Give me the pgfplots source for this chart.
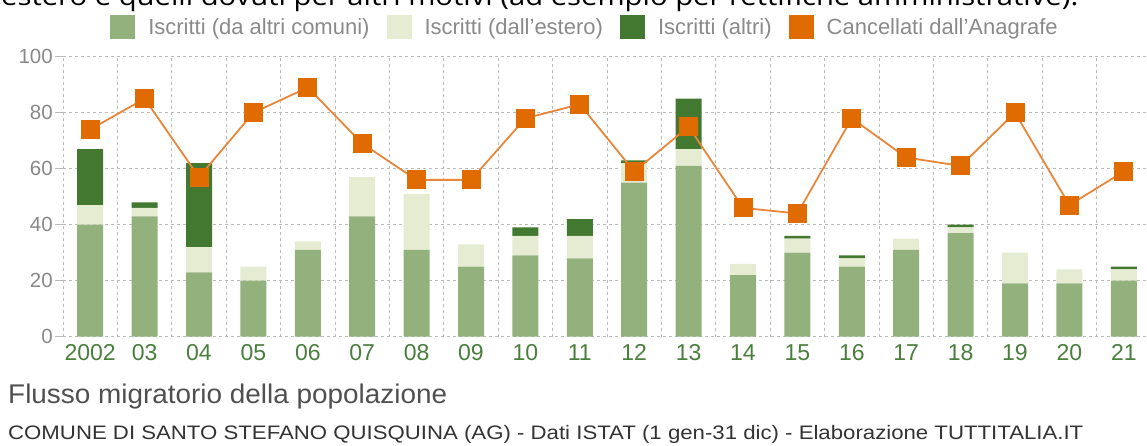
\documentclass[border=0pt]{standalone}
\usepackage{fontspec}
\setmainfont{Liberation Sans}
\newfontfamily\opensans{Open Sans}
\usepackage{graphicx}
\usepackage{pgfplots}
\usepackage{pgfplotstable}
\pgfplotsset{compat=1.18}

\definecolor{cA}{HTML}{93B17D}
\definecolor{cB}{HTML}{E5ECD1}
\definecolor{cC}{HTML}{42782F}
\definecolor{cO}{HTML}{E06B00}
\definecolor{cOl}{HTML}{E8863A}
\definecolor{gridc}{HTML}{BBBBBB}
\definecolor{ticktxt}{HTML}{888888}
\definecolor{xtxt}{HTML}{4A7E3C}
\definecolor{legtxt}{HTML}{8A8A8A}
\definecolor{titletxt}{HTML}{505050}
\definecolor{subtxt}{HTML}{333333}

\pgfplotstableread{
x a b c d
0 40 7 20 74
1 43 3 2 85
2 23 9 30 57
3 20 5 0 80
4 31 3 0 89
5 43 14 0 69
6 31 20 0 56
7 25 8 0 56
8 29 7 3 78
9 28 8 6 83
10 55 7 1 59
11 61 6 18 75
12 22 4 0 46
13 30 5 1 44
14 25 3 1 78
15 31 4 0 64
16 37 2 1 61
17 19 11 0 80
18 19 5 0 47
19 20 4 1 59
}\data

\begin{document}
\begin{tikzpicture}
\useasboundingbox (0pt,0pt) rectangle (1147pt,446pt);

% cut-off text at top
\node[anchor=base west, inner sep=0pt, text=black] at (1pt,440pt)
  {\resizebox{1077pt}{\height}{\opensans\fontsize{26}{30}\selectfont estero e quelli dovuti per altri motivi (ad esempio per rettifiche amministrative).}};

\begin{axis}[
  at={(63pt,109.3pt)}, anchor=south west,
  scale only axis, width=1088pt, height=280pt,
  xmin=-0.5, xmax=19.5, ymin=0, ymax=100,
  ybar stacked, bar width=26pt,
  xtick={0,...,19},
  xticklabels={2002,03,04,05,06,07,08,09,10,11,12,13,14,15,16,17,18,19,20,21},
  minor xtick={-0.5,0.5,...,19.5},
  ytick={0,20,...,100},
  xminorgrids, ymajorgrids,
  grid style={draw=gridc, line width=0.9pt, dash pattern=on 3pt off 3pt},
  axis lines*=left,
  axis line style={draw=gridc, line width=0.9pt, dash pattern=on 3pt off 3pt},
  tick align=outside, major tick length=8pt, minor tick length=0pt,
  xtick style={draw=none},
  ytick style={draw=gridc, line width=0.9pt, solid},
  /pgf/number format/assume math mode=true,
  yticklabel style={font=\fontsize{20.5}{24}\selectfont, text=ticktxt, inner sep=2pt},
  xticklabel style={font=\fontsize{23}{26}\selectfont, text=xtxt, inner sep=0pt, anchor=north},
]
\addplot[fill=cA, draw=none] table[x=x,y=a]{\data};
\addplot[fill=cB, draw=none] table[x=x,y=b]{\data};
\addplot[fill=cC, draw=none] table[x=x,y=c]{\data};
\end{axis}

\begin{axis}[
  at={(63pt,109.3pt)}, anchor=south west,
  scale only axis, width=1088pt, height=280pt,
  xmin=-0.5, xmax=19.5, ymin=0, ymax=100,
  hide axis, clip=false,
  legend columns=4,
  legend image code/.code={\fill[#1, draw=none] (0pt,-12pt) rectangle (25pt,12pt); \path[draw=none, fill=none] (25pt,0pt) -- (38pt,0pt);},
  legend style={at={(0.4789,1.1061)}, anchor=center, draw=none, fill=none,
    inner sep=0pt, outer sep=0pt, column sep=0pt,
    nodes={inner sep=0pt, text=legtxt, font=\fontsize{22}{24}\selectfont},
    /tikz/every even column/.append style={column sep=17pt}},
]
\addlegendimage{fill=cA}
\addlegendentry{Iscritti (da altri comuni)}
\addlegendimage{fill=cB}
\addlegendentry{Iscritti (dall'estero)}
\addlegendimage{fill=cC}
\addlegendentry{Iscritti (altri)}
\addlegendimage{fill=cO}
\addlegendentry{Cancellati dall'Anagrafe}
\addplot[forget plot, draw=cOl, line width=1.8pt, mark=square*, mark size=9pt, mark options={solid, fill=cO, draw=cO, line width=0pt}] table[x=x,y=d]{\data};
\end{axis}

\node[anchor=base west, inner sep=0pt, text=titletxt] at (8pt,42pt)
  {\resizebox{439pt}{\height}{\fontsize{27}{30}\selectfont Flusso migratorio della popolazione}};
\node[anchor=base west, inner sep=0pt, text=subtxt] at (8pt,6pt)
  {\resizebox{1075pt}{\height}{\fontsize{19.5}{22}\selectfont COMUNE DI SANTO STEFANO QUISQUINA (AG) - Dati ISTAT (1 gen-31 dic) - Elaborazione TUTTITALIA.IT}};
\end{tikzpicture}
\end{document}
